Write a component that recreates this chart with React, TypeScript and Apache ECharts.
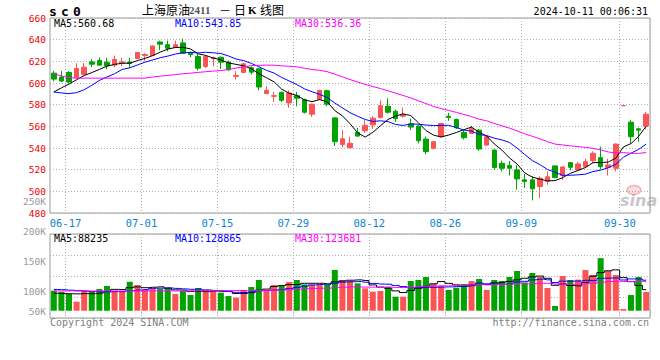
import React, { useEffect, useRef } from "react";
import * as echarts from "echarts";

const dates = [
  "06-13","06-14","06-17","06-18","06-19","06-20","06-21","06-24","06-25","06-26","06-27","06-28",
  "07-01","07-02","07-03","07-04","07-05","07-08","07-09","07-10","07-11","07-12",
  "07-15","07-16","07-17","07-18","07-19","07-22","07-23","07-24","07-25","07-26","07-29","07-30","07-31",
  "08-01","08-02","08-05","08-06","08-07","08-08","08-09","08-12","08-13","08-14","08-15","08-16",
  "08-19","08-20","08-21","08-22","08-23","08-26","08-27","08-28","08-29","08-30",
  "09-02","09-03","09-04","09-05","09-06","09-09","09-10","09-11","09-12","09-13",
  "09-18","09-19","09-20","09-23","09-24","09-25","09-26","09-27","09-30",
  "10-08","10-09","10-10"
];

const labelDates = ["06-17","07-01","07-15","07-29","08-12","08-26","09-09","09-30"];

const openPrices = [
  609.1,605.5,609.7,604.8,607.9,619.5,620.8,619.2,616.5,618.6,
  619.2,622.6,625.3,625.3,637.9,635.4,633.0,637.0,628.1,624.4,
  615.3,622.6,623.8,619.2,606.1,609.7,614.0,613.1,590.2,587.7,
  591.4,581.6,588.3,584.7,571.2,585.0,592.9,567.8,543.3,540.3,
  554.4,555.9,561.4,568.1,578.5,573.9,569.4,562.3,560.2,548.2,
  539.7,550.4,569.4,566.3,554.4,553.4,556.5,542.7,538.1,525.9,
  523.8,519.8,510.6,510.6,504.5,509.1,523.5,514.6,526.5,519.8,
  522.8,528.3,531.1,522.2,521.3,579.1,563.8,557.7,560.2
];
const closePrices = [
  603.6,601.8,600.9,613.4,614.6,617.4,616.5,615.9,621.7,619.5,
  618.0,628.1,626.3,634.2,635.8,632.1,635.4,627.5,626.3,613.7,
  624.4,623.2,619.2,612.2,607.0,617.7,610.0,596.3,593.2,588.3,
  584.0,590.8,585.9,573.0,580.4,593.2,580.4,545.8,548.5,544.3,
  551.0,560.8,567.5,579.1,573.0,567.2,570.9,559.3,546.7,536.6,
  545.8,562.6,568.1,558.6,549.5,557.7,539.1,550.4,521.9,521.3,
  521.3,511.5,509.1,502.3,512.1,513.4,512.7,522.5,522.2,525.3,
  527.4,535.1,522.8,524.4,543.6,579.1,550.4,556.5,571.2
];
const lowPrices = [
  601.5,600.9,600.0,604.5,607.6,614.6,616.5,612.8,614.6,615.3,
  614.0,622.3,620.1,625.0,630.2,629.3,633.0,626.9,623.8,611.6,
  613.7,615.3,613.1,611.0,603.3,609.1,607.9,593.2,590.2,582.5,
  582.5,577.0,578.5,571.8,568.7,584.4,578.5,541.8,540.6,539.7,
  550.4,554.1,557.7,567.2,571.8,564.1,568.1,556.5,544.3,534.2,
  538.8,549.8,565.1,557.7,547.9,552.8,537.5,542.1,519.8,518.3,
  514.6,501.4,503.0,491.6,493.8,506.0,512.1,510.6,519.2,519.2,
  521.3,525.9,520.4,514.6,518.3,579.1,544.3,545.8,557.4
];
const highPrices = [
  611.0,611.0,611.0,618.3,618.3,622.0,623.5,623.2,625.3,623.2,
  623.2,628.1,627.5,634.5,639.1,639.1,639.1,641.0,629.0,626.9,
  625.7,624.4,624.4,620.8,611.0,618.6,615.3,614.0,596.9,591.7,
  592.0,593.2,591.7,585.6,581.0,593.8,593.8,568.7,556.5,550.4,
  558.6,565.7,569.4,584.0,585.9,575.5,577.3,567.2,561.1,550.4,
  546.4,563.2,572.4,567.2,556.5,560.5,557.4,551.0,538.8,528.3,
  528.0,524.4,516.1,513.7,513.7,518.3,523.8,522.8,527.1,527.1,
  530.2,536.9,541.2,529.9,544.3,579.1,565.7,558.9,573.3
];

const volumes = [
  83800,79600,69800,37700,86600,82400,90700,103300,83800,82400,
  121400,107500,86600,93500,90700,94900,69800,82400,65600,94900,
  86600,83800,75400,61400,54500,86600,99100,128400,83800,107500,
  107500,120000,128400,110300,107500,107500,107500,170300,128400,124200,
  114400,93500,79600,82400,100500,58700,58700,124200,128400,141000,
  111700,104700,86600,96300,111700,124200,132600,86600,128400,124200,
  141000,166100,118600,157700,141000,94900,19600,145100,128400,130000,
  170000,149300,220000,166100,149300,7000,65600,141000,78200
];

// moving-average values before enough bars exist
const ma5Head = [591.7, 595.5, 599.0, 603.0];
const ma10Head = [591.7, 590.8, 590.2, 591.1, 593.8, 597.8, 602.4, 605.5, 608.5];
const ma30Head = [
  608.5,606.5,605.0,604.5,604.5,604.5,604.5,604.5,604.5,604.5,
  604.5,604.5,604.5,605.5,606.3,607.0,607.8,608.5,609.1,609.8,
  610.4,611.0,611.5,612.5,613.8,615.0,616.0,616.3,616.5
];
const volMa5Head = [73000, 72000, 71000, 70500];
const volMa10Head = [89000, 88000, 86000, 84000, 82000, 80000, 79000, 79000, 80000];
const volMa30Head = [
  83000,83000,83000,82500,82500,82500,82500,82500,82500,82500,
  83000,83000,83000,83000,83000,83000,83000,83000,83500,83500,
  84000,84000,84000,84000,84500,84500,85000,85000,85500
];

const volTickLabels = ["50K", "", "100K", "", "", "150K", "", "", "200K", "", "", "250K"];
const priceLegend = ["MA5:560.68", "MA10:543.85", "MA30:536.36"];
const volLegend = ["MA5:88235", "MA10:128865", "MA30:123681"];
const codeLetters = ["s", "c", "0"];

const RED = "#fa5454";
const GREEN = "#00a300";
const MONO = "DejaVu Sans Mono";

function movingAvg(values: number[], n: number, head: number[]) {
  return values.map((_, i) => {
    if (i < n - 1) return head[i];
    let s = 0;
    for (let k = i - n + 1; k <= i; k++) s += values[k];
    return +(s / n).toFixed(2);
  });
}

export default function App() {
  const ref = useRef<HTMLDivElement>(null);
  useEffect(() => {
    if (!ref.current) return;
    const chart = echarts.init(ref.current, null, { renderer: "svg" });
    const showAt = (_i: number, v: string) => labelDates.indexOf(v) >= 0;
    const dotted = { color: "#b0b0b0", type: [1, 2], width: 1 };
    const candleData = dates.map((_, i) => [openPrices[i], closePrices[i], lowPrices[i], highPrices[i]]);
    const volData = volumes.map((v, i) => ({
      value: v,
      itemStyle: { color: closePrices[i] >= openPrices[i] ? RED : GREEN },
    }));
    const ma5 = movingAvg(closePrices, 5, ma5Head);
    const ma10 = movingAvg(closePrices, 10, ma10Head);
    const ma30 = movingAvg(closePrices, 30, ma30Head);
    const vma5 = movingAvg(volumes, 5, volMa5Head);
    const vma10 = movingAvg(volumes, 10, volMa10Head);
    const vma30 = movingAvg(volumes, 30, volMa30Head);
    const lineS = (data: number[], color: string, xi: number, step?: any) => ({
      type: "line", xAxisIndex: xi, yAxisIndex: xi, data, symbol: "none", showSymbol: false,
      step: step || false, lineStyle: { color, width: 1 }, z: 5, silent: true,
    });
    const txt = (text: string, x: number, y: number, fill: string, font: string, align = "left") => ({
      type: "text", z: 100,
      style: { text, x, y, fill, font, textAlign: align, align, textVerticalAlign: "middle", verticalAlign: "middle" },
    });
    const legendColors = ["#000000", "#0000ff", "#ff00ff"];
    const legendX = [54, 175, 295];
    const option: any = {
      animation: false,
      backgroundColor: "#ffffff",
      grid: [
        { left: 50, top: 18, width: 600, height: 195, show: true, borderColor: "#9a9a9a", borderWidth: 1 },
        { left: 50, top: 234, width: 600, height: 84, show: true, borderColor: "#9a9a9a", borderWidth: 1 },
        { left: 50, top: 201, width: 600, height: 110, show: false },
      ],
      xAxis: [
        {
          type: "category", gridIndex: 0, data: dates, boundaryGap: true,
          axisLine: { show: false }, axisTick: { show: false },
          axisLabel: { interval: showAt, color: "#0a86d0", fontFamily: MONO, fontSize: 10.5, margin: 4, padding: [0, 7, 0, 0] },
          splitLine: { show: true, interval: showAt, lineStyle: dotted },
        },
        {
          type: "category", gridIndex: 1, data: dates, boundaryGap: true,
          axisLine: { show: false },
          axisTick: { show: true, interval: showAt, length: 3, lineStyle: { color: "#b0b0b0", type: [1, 1] } },
          axisLabel: { show: false },
          splitLine: { show: true, interval: showAt, lineStyle: dotted },
        },
        { type: "value", gridIndex: 2, min: 0, max: 1, show: false },
      ],
      yAxis: [
        {
          type: "value", gridIndex: 0, min: 480, max: 660, interval: 20,
          axisLine: { show: false }, axisTick: { show: false },
          axisLabel: { color: "#ee0000", fontFamily: MONO, fontSize: 9.5, lineHeight: 8, margin: 4, padding: [0, 0, 4, 0] },
          splitLine: { show: true, lineStyle: dotted },
        },
        { type: "value", gridIndex: 1, min: -30500, max: 321000, show: false, splitLine: { show: false } },
        {
          type: "value", gridIndex: 1, min: 0, max: 4, interval: 1,
          axisLine: { show: false }, axisTick: { show: false }, axisLabel: { show: false },
          splitLine: { show: true, lineStyle: dotted },
        },
        {
          type: "category", gridIndex: 2, data: volTickLabels, boundaryGap: false,
          axisLine: { show: false }, axisTick: { show: false }, splitLine: { show: false },
          axisLabel: { interval: 0, color: "#9a9a9a", fontFamily: MONO, fontSize: 9.5, lineHeight: 8, margin: 4 },
        },
      ],
      series: [
        {
          type: "candlestick", xAxisIndex: 0, yAxisIndex: 0, data: candleData, barWidth: 5,
          itemStyle: { color: RED, color0: GREEN, borderColor: RED, borderColor0: GREEN, borderColorDoji: RED, borderWidth: 1 },
          silent: true,
        },
        lineS(ma5, "#000000", 0),
        lineS(ma10, "#0000ff", 0),
        lineS(ma30, "#ff00ff", 0),
        { type: "bar", xAxisIndex: 1, yAxisIndex: 1, data: volData, barWidth: 6, silent: true },
        lineS(vma5, "#000000", 1, "middle"),
        lineS(vma10, "#0000ff", 1, "middle"),
        lineS(vma30, "#ff00ff", 1, "middle"),
      ],
      graphic: [
        ...codeLetters.map((t, i) => txt(t, 49 + i * 12, 11, "#000", `bold 13px ${MONO}`)),
        txt("上海原油", 142, 9.5, "#000", "12px 'Noto Sans CJK SC'"),
        txt("2411", 189, 10, "#555", "bold 11px 'Liberation Serif'"),
        txt("－", 219, 9.5, "#000", "12px 'Noto Sans CJK SC'"),
        txt("日", 234, 9.5, "#000", "12px 'Noto Sans CJK SC'"),
        txt("K", 248, 10, "#000", "bold 11px 'Liberation Serif'"),
        txt("线图", 260, 9.5, "#000", "12px 'Noto Sans CJK SC'"),
        txt("2024-10-11 00:06:31", 648, 11.5, "#000", `10px ${MONO}`, "right"),
        ...priceLegend.map((t, i) => txt(t, legendX[i], 23.5, legendColors[i], `10px ${MONO}`)),
        ...volLegend.map((t, i) => txt(t, legendX[i], 238, legendColors[i], `10px ${MONO}`)),
        txt("Copyright 2024 SINA.COM", 50, 322.5, "#808080", `10px ${MONO}`),
        txt("http://finance.sina.com.cn", 649, 322.5, "#808080", `10px ${MONO}`, "right"),
        {
          type: "ellipse", z: 90, shape: { cx: 634, cy: 190, rx: 7, ry: 4.5 },
          style: { fill: "rgba(240,120,120,0.25)", stroke: "rgba(230,110,110,0.45)", lineWidth: 1.5 },
        },
        txt("sina", 620, 200, "rgba(150,150,150,0.55)", "italic bold 16px 'DejaVu Sans'"),
      ],
    };
    chart.setOption(option);
    return () => chart.dispose();
  }, []);
  return (
    <div
      ref={ref}
      style={{ position: "fixed", left: 0, top: 0, width: 660, height: 360, background: "#fff" }}
    />
  );
}
